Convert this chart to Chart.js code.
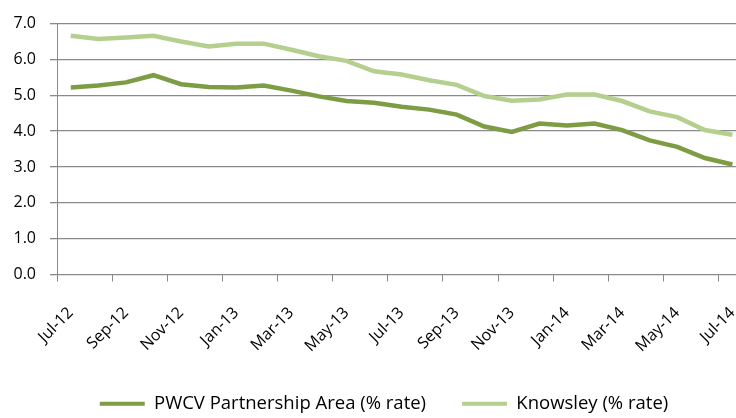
<!DOCTYPE html>
<html>
<head>
<meta charset="utf-8">
<script src="https://cdn.jsdelivr.net/npm/chart.js@4.4.1/dist/chart.umd.min.js"></script>
<style>
  html, body { margin: 0; padding: 0; background: #fff; overflow: hidden; }
  /* a bit larger than the window: the original picture is cropped on the right */
  #wrap { position: relative; width: 768px; height: 423px; }
</style>
</head>
<body>
<div id="wrap"><canvas id="rateChart"></canvas></div>
<script>
// data (monthly, Jul-12 .. Jul-14)
const months = [
  "Jul-12", "Aug-12", "Sep-12", "Oct-12", "Nov-12", "Dec-12",
  "Jan-13", "Feb-13", "Mar-13", "Apr-13", "May-13", "Jun-13",
  "Jul-13", "Aug-13", "Sep-13", "Oct-13", "Nov-13", "Dec-13",
  "Jan-14", "Feb-14", "Mar-14", "Apr-14", "May-14", "Jun-14", "Jul-14",
];
const pwcvRate = [
  5.22, 5.27, 5.36, 5.56, 5.31, 5.23, 5.22, 5.27, 5.13, 4.97, 4.84, 4.79,
  4.68, 4.60, 4.46, 4.13, 3.98, 4.21, 4.16, 4.21, 4.03, 3.74, 3.56, 3.25, 3.07,
];
const knowsleyRate = [
  6.66, 6.57, 6.61, 6.66, 6.50, 6.36, 6.44, 6.44, 6.27, 6.09, 5.96, 5.67,
  5.58, 5.42, 5.29, 4.98, 4.85, 4.88, 5.02, 5.02, 4.84, 4.55, 4.39, 4.03, 3.90,
];
const yTicks = [0, 1, 2, 3, 4, 5, 6, 7];

const gridGray = "#8a8a8a";
const darkGreen = "#7d9c43";
const lightGreen = "#b5cf8e";

Chart.defaults.font.family = "'Open Sans', sans-serif";
Chart.defaults.font.size = 16;
Chart.defaults.color = "#000";

const ctx = document.getElementById("rateChart").getContext("2d");

new Chart(ctx, {
  type: "line",
  data: {
    labels: months,
    datasets: [
      {
        label: "PWCV Partnership Area (% rate)",
        data: pwcvRate,
        borderColor: darkGreen,
        backgroundColor: darkGreen,
        borderWidth: 4.5,
        pointRadius: 0,
        tension: 0,
      },
      {
        label: "Knowsley (% rate)",
        data: knowsleyRate,
        borderColor: lightGreen,
        backgroundColor: lightGreen,
        borderWidth: 4.5,
        pointRadius: 0,
        tension: 0,
      },
    ],
  },
  options: {
    responsive: true,
    maintainAspectRatio: false,
    animation: false,
    layout: { padding: { top: 14, right: 0, left: 0, bottom: 0 } },
    plugins: {
      tooltip: { enabled: false },
      legend: {
        position: "bottom",
        labels: {
          boxWidth: 45,
          boxHeight: 4,
          padding: 36,
          font: { size: 18.5 },
          // plain filled bar, no outline
          generateLabels: (chart) =>
            Chart.defaults.plugins.legend.labels
              .generateLabels(chart)
              .map((item) => ({ ...item, lineWidth: 0 })),
        },
      },
    },
    scales: {
      x: {
        offset: true,
        border: { color: gridGray, width: 1 },
        grid: {
          offset: true,
          drawOnChartArea: false,
          tickLength: 7,
          color: (c) => (c.index % 2 === 0 ? gridGray : "rgba(0,0,0,0)"),
        },
        ticks: {
          autoSkip: false,
          maxRotation: 45,
          minRotation: 45,
          padding: 22,
          callback: (val, i) => (i % 2 === 0 ? months[i] : ""),
        },
        afterFit: (scale) => { scale.height = 84; },
      },
      y: {
        min: 0,
        max: 7,
        afterBuildTicks: (scale) => {
          scale.ticks = yTicks.map((v) => ({ value: v }));
        },
        border: { color: gridGray, width: 1 },
        grid: { color: gridGray, lineWidth: 1.3, tickLength: 7 },
        ticks: {
          padding: 14,
          callback: (v) => Number(v).toFixed(1),
        },
        afterFit: (scale) => { scale.width = 57; },
      },
    },
  },
});
</script>
</body>
</html>
